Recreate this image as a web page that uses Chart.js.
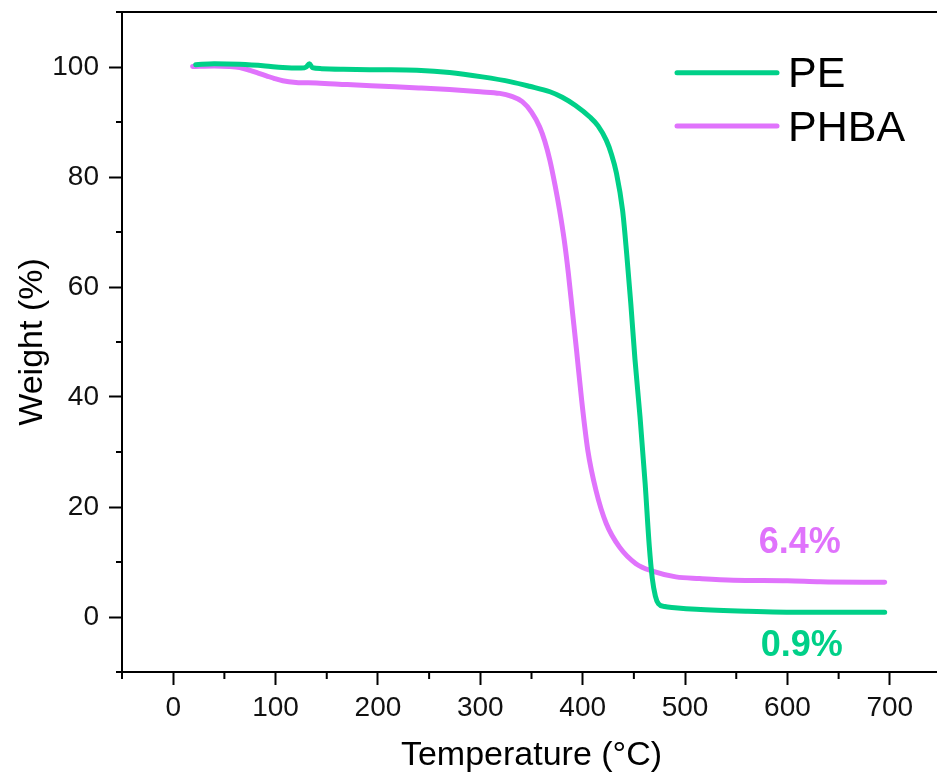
<!DOCTYPE html>
<html>
<head>
<meta charset="utf-8">
<script src="https://cdn.jsdelivr.net/npm/chart.js@4/dist/chart.umd.min.js"></script>
<style>
  html, body { margin: 0; padding: 0; background: #fff; overflow: hidden; }
  #wrap { width: 945px; height: 780px; }
</style>
</head>
<body>
<div id="wrap"><canvas id="tga" width="945" height="780"></canvas></div>
<script>
// Curvas TGA
const peTemp = [22, 40, 65, 90, 107, 125, 130, 133, 136, 145, 166, 200, 238, 270, 302, 330, 348, 368, 380, 393, 407, 415, 423, 428, 433, 439, 443, 447, 451, 456, 461, 465, 468, 471, 474, 480, 490, 511, 560, 615, 695]
const peWeight = [100.4, 100.6, 100.5, 100.2, 99.9, 99.8, 100.0, 100.6, 99.9, 99.7, 99.6, 99.5, 99.4, 99.0, 98.2, 97.3, 96.5, 95.5, 94.5, 93.0, 90.9, 89.3, 86.7, 84.2, 80.7, 73.9, 66.0, 57.0, 47.0, 36.4, 24.3, 13.0, 7.0, 3.8, 2.4, 1.9, 1.7, 1.4, 1.05, 0.85, 0.85]

const phbaTemp = [19, 40, 55, 65, 75, 83, 91, 99, 107, 120, 140, 170, 205, 240, 270, 300, 319, 330, 341, 350, 358, 363, 368, 373, 377.5, 382, 386, 390, 394, 399, 405, 413, 423, 436, 452, 469, 491, 514, 547, 600, 632, 695]
const phbaWeight = [100.1, 100.2, 100.1, 99.9, 99.4, 98.9, 98.4, 97.9, 97.5, 97.2, 97.1, 96.8, 96.5, 96.2, 95.9, 95.5, 95.2, 94.7, 93.7, 91.8, 89.1, 86.5, 83.0, 78.5, 73.9, 68.5, 62.5, 55.5, 48.5, 39.4, 30.3, 23.0, 17.0, 12.7, 9.7, 8.3, 7.3, 7.0, 6.7, 6.6, 6.4, 6.3]

const seriesNames = ['PE', 'PHBA']
const seriesColors = ['#00D088', '#E073FC']

// Residuo final (texto, temperatura, peso)
const residueText = ['0.9%', '6.4%']
const residueTemp = [574, 572]
const residueWeight = [-7.0, 11.6]

const xMajorTicks = [0, 100, 200, 300, 400, 500, 600, 700]
const yMajorTicks = [0, 20, 40, 60, 80, 100]

const toPoints = (xs, ys) => xs.map((x, i) => ({ x: x, y: ys[i] }))

const FONT = '"Liberation Sans", Arial, sans-serif'

// Moldura, ticks menores, legenda e rotulos
const extrasPlugin = {
  id: 'extras',
  afterDraw(chart) {
    const { ctx, chartArea, scales } = chart
    const { left, right, top, bottom } = chartArea
    ctx.save()
    ctx.strokeStyle = '#000'
    ctx.lineWidth = 2
    ctx.beginPath()
    ctx.moveTo(left - 6, top)
    ctx.lineTo(right, top)
    ctx.lineTo(right, bottom)
    ctx.stroke()

    // ticks menores
    ctx.beginPath()
    for (let v = -10; v <= 110; v += 20) {
      const y = scales.y.getPixelForValue(v)
      ctx.moveTo(left - 6, y)
      ctx.lineTo(left, y)
    }
    for (let v = -50; v <= 750; v += 100) {
      const x = scales.x.getPixelForValue(v)
      ctx.moveTo(x, bottom)
      ctx.lineTo(x, bottom + 7)
    }
    ctx.stroke()

    // legenda
    const legendY = [72.7, 126]
    ctx.lineCap = 'round'
    ctx.lineWidth = 5
    ctx.font = '43px ' + FONT
    ctx.textBaseline = 'alphabetic'
    ctx.textAlign = 'left'
    seriesNames.forEach((name, i) => {
      ctx.strokeStyle = seriesColors[i]
      ctx.beginPath()
      ctx.moveTo(677, legendY[i])
      ctx.lineTo(777, legendY[i])
      ctx.stroke()
      ctx.fillStyle = '#000'
      ctx.fillText(name, 788, legendY[i] + 14.5)
    })

    // residuo
    ctx.font = 'bold 36px ' + FONT
    residueText.forEach((t, i) => {
      ctx.fillStyle = seriesColors[i]
      ctx.fillText(t, scales.x.getPixelForValue(residueTemp[i]), scales.y.getPixelForValue(residueWeight[i]))
    })
    ctx.restore()
  }
}

new Chart(document.getElementById('tga'), {
  type: 'line',
  data: {
    datasets: [
      {
        label: seriesNames[0],
        data: toPoints(peTemp, peWeight),
        borderColor: seriesColors[0],
        borderWidth: 5,
        pointRadius: 0,
        cubicInterpolationMode: 'monotone',
        borderCapStyle: 'round'
      },
      {
        label: seriesNames[1],
        data: toPoints(phbaTemp, phbaWeight),
        borderColor: seriesColors[1],
        borderWidth: 5,
        pointRadius: 0,
        cubicInterpolationMode: 'monotone',
        borderCapStyle: 'round'
      }
    ]
  },
  options: {
    responsive: false,
    animation: false,
    layout: { padding: { top: 12, right: 4, left: 0, bottom: 0 } },
    plugins: {
      legend: { display: false },
      tooltip: { enabled: false }
    },
    scales: {
      x: {
        type: 'linear',
        min: -50,
        max: 750,
        afterFit: (scale) => {
          scale.height = 108
          scale.paddingLeft = 0
          scale.paddingRight = 0
        },
        ticks: {
          stepSize: 50,
          autoSkip: false,
          maxRotation: 0,
          padding: 6,
          color: '#111',
          font: { family: FONT, size: 28 },
          callback: (v) => xMajorTicks.includes(v) ? v : ''
        },
        grid: {
          drawOnChartArea: false,
          drawTicks: true,
          tickLength: 13,
          tickWidth: 2,
          tickColor: (c) => xMajorTicks.includes(c.tick && c.tick.value) ? '#000' : 'rgba(0,0,0,0)'
        },
        border: { display: true, color: '#000', width: 2 },
        title: {
          display: true,
          text: 'Temperature (°C)',
          color: '#000',
          font: { family: FONT, size: 34 },
          padding: { top: 0, bottom: 4 }
        }
      },
      y: {
        min: -10,
        max: 110,
        afterFit: (scale) => {
          scale.width = 122
          scale.paddingTop = 0
          scale.paddingBottom = 0
        },
        ticks: {
          stepSize: 10,
          autoSkip: false,
          padding: 10,
          color: '#111',
          font: { family: FONT, size: 28 },
          callback: (v) => yMajorTicks.includes(v) ? v : ''
        },
        grid: {
          drawOnChartArea: false,
          drawTicks: true,
          tickLength: 13,
          tickWidth: 2,
          tickColor: (c) => yMajorTicks.includes(c.tick && c.tick.value) ? '#000' : 'rgba(0,0,0,0)'
        },
        border: { display: true, color: '#000', width: 2 },
        title: {
          display: true,
          text: 'Weight (%)',
          color: '#000',
          font: { family: FONT, size: 34 },
          padding: { top: 12, bottom: 0 }
        }
      }
    }
  },
  plugins: [extrasPlugin]
})
</script>
</body>
</html>
